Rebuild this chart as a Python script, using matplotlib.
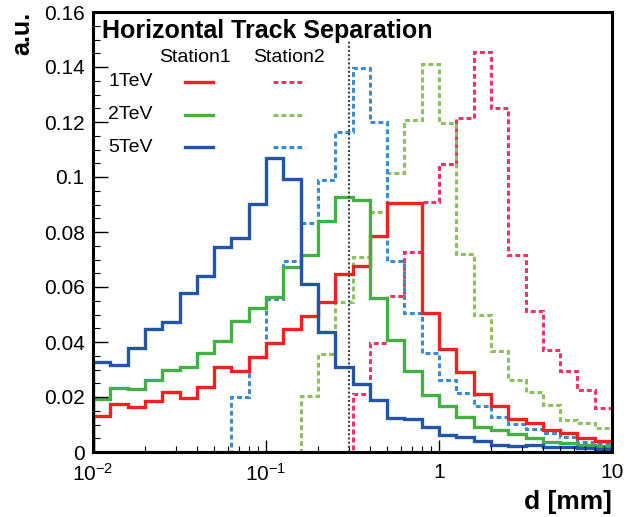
import numpy as np
import matplotlib
matplotlib.use('Agg')
import matplotlib.pyplot as plt
from matplotlib.ticker import FixedLocator, FixedFormatter, MultipleLocator, NullFormatter

plt.rcParams['font.family'] = ['Liberation Sans', 'DejaVu Sans']
plt.rcParams['mathtext.fontset'] = 'custom'
plt.rcParams['mathtext.rm'] = 'Liberation Sans'
plt.rcParams['mathtext.it'] = 'Liberation Sans:italic'
plt.rcParams['mathtext.bf'] = 'Liberation Sans:bold'

# 10 log bins per decade, 0.01 .. 10 mm
edges = np.logspace(-2, 1, 31)

# Station1 (solid)
s1_1tev = [0.0132, 0.0175, 0.0165, 0.0187, 0.0219, 0.0195, 0.0235, 0.0308, 0.0296, 0.0347,
           0.0398, 0.0446, 0.0496, 0.0547, 0.0647, 0.0676, 0.0787, 0.0904, 0.0907, 0.0507,
           0.0373, 0.0292, 0.0211, 0.0168, 0.0119, 0.0104, 0.0080, 0.0068, 0.0050, 0.0041]
s1_2tev = [0.0192, 0.0234, 0.0229, 0.0262, 0.0298, 0.0310, 0.0359, 0.0405, 0.0478, 0.0525,
           0.0565, 0.0672, 0.0716, 0.0840, 0.0928, 0.0916, 0.0559, 0.0407, 0.0296, 0.0207,
           0.0168, 0.0128, 0.0092, 0.0080, 0.0065, 0.0050, 0.0038, 0.0032, 0.0024, 0.0022]
s1_5tev = [0.0328, 0.0316, 0.0379, 0.0447, 0.0474, 0.0579, 0.0640, 0.0744, 0.0777, 0.0902,
           0.1069, 0.0994, 0.0610, 0.0435, 0.0310, 0.0247, 0.0189, 0.0125, 0.0119, 0.0092,
           0.0062, 0.0056, 0.0040, 0.0025, 0.0022, 0.0025, 0.0019, 0.0017, 0.0013, 0.0012]

# Station2 (dashed)
s2_1tev = [0, 0, 0, 0, 0, 0, 0, 0, 0, 0,
           0, 0, 0, 0, 0, 0.0210, 0.0398, 0.0567, 0.0728, 0.0910,
           0.1046, 0.1216, 0.1453, 0.1252, 0.0716, 0.0513, 0.0371, 0.0296, 0.0225, 0.0159]
s2_2tev = [0, 0, 0, 0, 0, 0, 0, 0, 0, 0,
           0, 0, 0.0205, 0.0356, 0.0547, 0.0710, 0.0872, 0.1016, 0.1207, 0.1410,
           0.1195, 0.0720, 0.0498, 0.0368, 0.0262, 0.0219, 0.0171, 0.0116, 0.0104, 0.0086]
s2_5tev = [0, 0, 0, 0, 0, 0, 0, 0, 0.0201, 0.0347,
           0.0556, 0.0695, 0.0834, 0.0989, 0.1162, 0.1395, 0.1201, 0.0696, 0.0507, 0.0359,
           0.0262, 0.0213, 0.0167, 0.0126, 0.0102, 0.0083, 0.0068, 0.0053, 0.0038, 0.0032]

cut_d = 0.3
cut_top = 0.15

energies = ['1TeV', '2TeV', '5TeV']
col1 = ['#ee2222', '#44b044', '#2255a5']
col2 = ['#ee3366', '#8cc060', '#3a8ccc']

W, H = 637, 517
fig = plt.figure(figsize=(W/100, H/100), dpi=100)
ax = fig.add_axes([93/W, (H-452)/H, (612-93)/W, (452-12)/H])

dash = (0, (1.6, 1.0))
for v, c in zip([s2_1tev, s2_2tev, s2_5tev], col2):
    ax.stairs(v, edges, color=c, lw=2.2, linestyle=dash)
for v, c in zip([s1_1tev, s1_2tev, s1_5tev], col1):
    ax.stairs(v, edges, color=c, lw=2.4)

ax.plot([cut_d, cut_d], [0, cut_top], color='#444444', lw=1.5, linestyle=(0, (1, 1)))

ax.set_xscale('log')
ax.set_xlim(1e-2, 10)
ax.set_ylim(0, 0.16)

ax.xaxis.set_major_locator(FixedLocator([0.01, 0.1, 1, 10]))
ax.xaxis.set_major_formatter(FixedFormatter(['$10^{-2}$', '$10^{-1}$', '1', '10']))
minors = [m * 10.0**e for e in (-2, -1, 0) for m in range(2, 10)]
ax.xaxis.set_minor_locator(FixedLocator(minors))
ax.xaxis.set_minor_formatter(NullFormatter())
ax.set_yticks(np.arange(0, 0.161, 0.02))
ax.set_yticklabels(['0', '0.02', '0.04', '0.06', '0.08', '0.1', '0.12', '0.14', '0.16'])
ax.yaxis.set_minor_locator(MultipleLocator(0.005))

ax.tick_params(axis='both', which='both', direction='in', top=False, right=False,
               labelsize=15, color='black')
ax.tick_params(axis='x', which='major', length=9, width=1, pad=8)
ax.tick_params(axis='x', which='minor', length=4.5, width=0.8)
ax.tick_params(axis='y', which='major', length=10.5, width=1, pad=6)
ax.tick_params(axis='y', which='minor', length=5, width=0.8)
for s in ax.spines.values():
    s.set_linewidth(2.2)

ax.text(0.018, 0.985, 'Horizontal Track Separation', transform=ax.transAxes,
        fontsize=18, fontweight='bold', ha='left', va='top')
fig.text(34/W, 1 - 12/H, 'a.u.', rotation=90, fontsize=18, fontweight='bold',
         ha='right', va='top')
fig.text(612/W, 1 - 514/H, 'd [mm]', fontsize=19, fontweight='bold', ha='right', va='bottom')

# legend table
ta = ax.transAxes
def axx(px):
    return (px - 93) / (612 - 93)
def axy(py):
    return (452 - py) / (452 - 12)
ax.text(axx(195), axy(58), 'Station1', transform=ta, fontsize=14, ha='center', va='center')
ax.text(axx(289), axy(58), 'Station2', transform=ta, fontsize=14, ha='center', va='center')
for i, (lab, c1, c2) in enumerate(zip(energies, col1, col2)):
    yy = axy(82 + 32.5 * i)
    ax.text(axx(108), yy, lab, transform=ta, fontsize=14, ha='left', va='center')
    ax.plot([axx(185), axx(213)], [yy, yy], transform=ta, color=c1, lw=2.4)
    ax.plot([axx(273), axx(305)], [yy, yy], transform=ta, color=c2, lw=2.2, linestyle=dash)

fig.savefig('out.png', dpi=100)
